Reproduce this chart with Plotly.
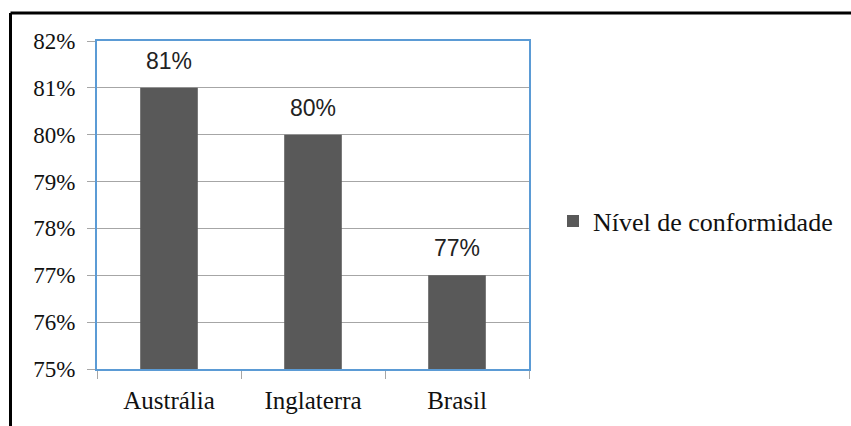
import plotly.graph_objects as go

categories = ["Austrália", "Inglaterra", "Brasil"]
values = [0.81, 0.80, 0.77]
series_name = "Nível de conformidade"
y_ticks = [0.75, 0.76, 0.77, 0.78, 0.79, 0.80, 0.81, 0.82]
y_tick_labels = ["75%", "76%", "77%", "78%", "79%", "80%", "81%", "82%"]

BAR = "#595959"
BLUE = "#5B9BD5"
GRID = "#A6A6A6"
SERIF = "Liberation Serif"
SANS = "Liberation Sans"

fig = go.Figure()
fig.add_trace(go.Bar(
    x=categories, y=values, name=series_name,
    marker=dict(color=BAR, line=dict(width=0)),
    width=0.4, showlegend=True,
))

for c, v in zip(categories, values):
    fig.add_annotation(x=c, y=v, xref="x", yref="y", text=f"{round(v*100)}%",
                       showarrow=False, yshift=27,
                       font=dict(family=SANS, size=23, color="#222222"))

W, H = 851, 426
L, R, T, B = 97, 322, 41, 57
pw, ph = W - L - R, H - T - B

def px_to_paper_x(px):
    return (px - L) / pw

def px_to_paper_y(py):
    return (H - B - py) / ph

# outer frame (top and left visible)
fig.add_shape(type="line", xref="paper", yref="paper",
              x0=px_to_paper_x(10.5), x1=px_to_paper_x(860),
              y0=px_to_paper_y(13), y1=px_to_paper_y(13),
              line=dict(color="black", width=3))
fig.add_shape(type="line", xref="paper", yref="paper",
              x0=px_to_paper_x(10.5), x1=px_to_paper_x(10.5),
              y0=px_to_paper_y(13), y1=px_to_paper_y(440),
              line=dict(color="black", width=3))

fig.update_layout(
    width=W, height=H,
    margin=dict(l=L, r=R, t=T, b=B, pad=0),
    paper_bgcolor="white", plot_bgcolor="white",
    bargap=0.6,
    showlegend=True,
    legend=dict(x=px_to_paper_x(553), y=px_to_paper_y(221), xanchor="left", yanchor="middle",
                font=dict(family=SERIF, size=26, color="#111111"),
                bgcolor="rgba(0,0,0,0)", itemwidth=30),
    xaxis=dict(
        showline=True, mirror=True, linecolor=BLUE, linewidth=2,
        ticks="outside", tickson="boundaries", ticklen=8, tickcolor=GRID,
        ticklabelstandoff=8,
        tickfont=dict(family=SERIF, size=25, color="#111111"),
        showgrid=False, zeroline=False,
    ),
    yaxis=dict(
        range=[0.75, 0.82], tickvals=y_ticks, ticktext=y_tick_labels,
        showline=True, mirror=True, linecolor=BLUE, linewidth=2,
        ticks="outside", ticklen=8, tickcolor=GRID, ticklabelstandoff=7,
        tickfont=dict(family=SERIF, size=23, color="#111111"),
        showgrid=True, gridcolor=GRID, gridwidth=1, zeroline=False,
    ),
)

fig.write_html("out.html")
